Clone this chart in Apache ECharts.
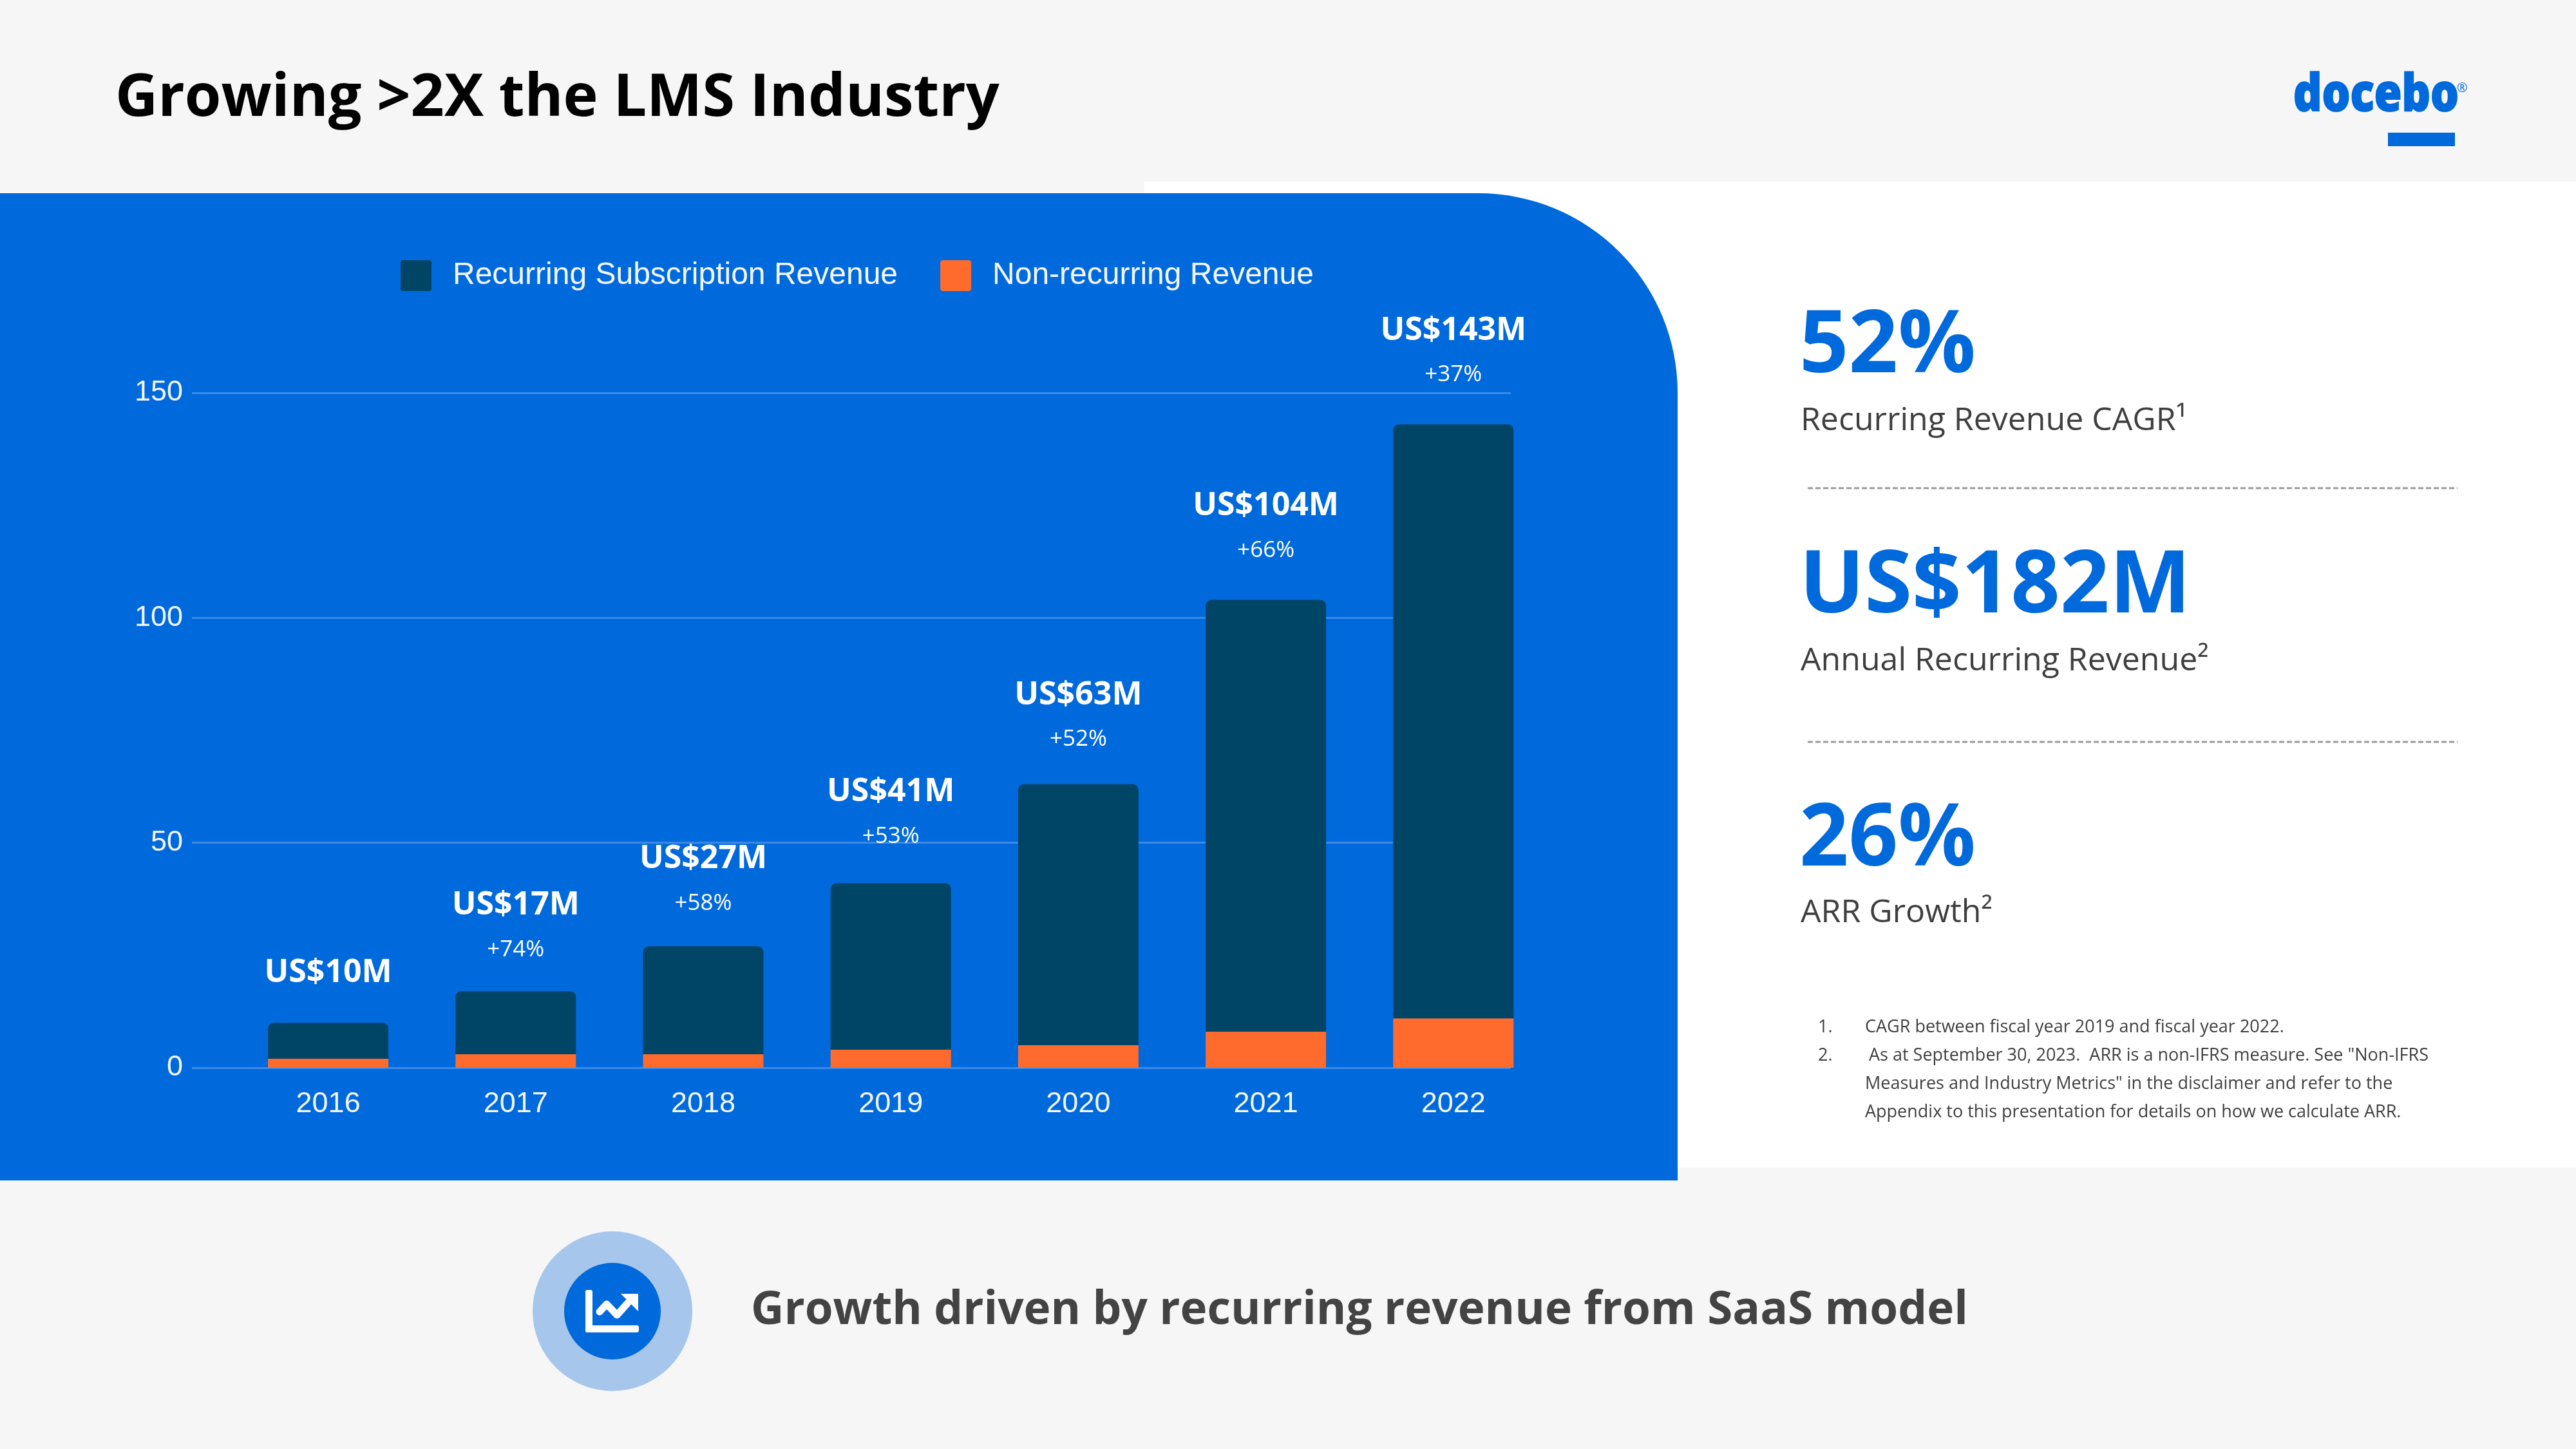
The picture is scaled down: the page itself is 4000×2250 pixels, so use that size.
<!DOCTYPE html>
<html>
<head>
<meta charset="utf-8">
<style>html,body{margin:0;padding:0;background:#f6f6f6}#c{width:4000px;height:2250px}</style>
<script src="https://cdn.jsdelivr.net/npm/echarts@6/dist/echarts.min.js"></script>
</head>
<body>
<div id="c"></div>
<script>
const years = ['2016','2017','2018','2019','2020','2021','2022'];
const recurring = [8,14,24,37,58,96,132];
const nonRecurring = [2,3,3,4,5,8,11];
const totalLabels = ['US$10M','US$17M','US$27M','US$41M','US$63M','US$104M','US$143M'];
const growthLabels = ['','+74%','+58%','+53%','+52%','+66%','+37%'];
const labelGaps = [43,30,32,38,35,42,42];
const metrics = ['52%','US$182M','26%'];
const metricNames = ['Recurring Revenue CAGR¹','Annual Recurring Revenue²','ARR Growth²'];

const BLUE='#0069DB', DARK='#004466', ORANGE='#FF6B2D', INK='#3F3F3F';
const SANS='"Open Sans"', ARIAL='"Liberation Sans"';

function txt(x,y,text,size,weight,fill,sx,extra){
  return {type:'text',x:x,y:y,scaleX:sx||1,z:20,
    style:Object.assign({x:0,y:0,text:text,fontFamily:SANS,fontSize:size,fontWeight:weight,fill:fill,textAlign:'left',textVerticalAlign:'middle',textBaseline:'middle'},extra||{})};
}
const graphics=[
  {type:'rect',z:-20,shape:{x:1777,y:282,width:2223,height:1531},style:{fill:'#fff'}},
  {type:'rect',z:-15,shape:{x:0,y:300,width:2605,height:1533,r:[0,310,0,0]},style:{fill:BLUE}},
  txt(3561,149,'docebo',79,800,BLUE,0.875,{stroke:BLUE,lineWidth:2}),
  txt(3815,137,'®',20,400,BLUE),
  {type:'rect',z:20,shape:{x:3708,y:206,width:104,height:21},style:{fill:BLUE}},
  txt(2794,540,metrics[0],134,700,BLUE),
  txt(2796,654,metricNames[0],50,400,INK),
  {type:'line',z:20,shape:{x1:2807,y1:758,x2:3816,y2:758},style:{stroke:'#9a9a9a',lineWidth:3,lineDash:[8,4]}},
  txt(2794,913,metrics[1],134,700,BLUE),
  txt(2796,1027,metricNames[1],50,400,INK),
  {type:'line',z:20,shape:{x1:2807,y1:1152,x2:3816,y2:1152},style:{stroke:'#9a9a9a',lineWidth:3,lineDash:[8,4]}},
  txt(2794,1306,metrics[2],134,700,BLUE),
  txt(2796,1418,metricNames[2],50,400,INK),
  txt(2823,1595,'1.',27,400,INK),
  txt(2896,1595,'CAGR between fiscal year 2019 and fiscal year 2022.',27,400,INK),
  txt(2823,1639,'2.',27,400,INK),
  txt(2902,1639,'As at September 30, 2023.  ARR is a non-IFRS measure. See "Non-IFRS',27,400,INK),
  txt(2896,1683,'Measures and Industry Metrics" in the disclaimer and refer to the',27,400,INK),
  txt(2896,1727,'Appendix to this presentation for details on how we calculate ARR.',27,400,INK),
  {type:'circle',z:10,shape:{cx:951,cy:2036,r:124},style:{fill:'#A6C6EC'}},
  {type:'circle',z:11,shape:{cx:951,cy:2036,r:75},style:{fill:BLUE}},
  {type:'rect',z:12,shape:{x:909,y:2003,width:11,height:66,r:3},style:{fill:'#fff'}},
  {type:'rect',z:12,shape:{x:909,y:2058,width:83,height:11,r:3},style:{fill:'#fff'}},
  {type:'polyline',z:12,shape:{points:[[931,2037],[942,2025],[958,2042],[975,2023]]},style:{stroke:'#fff',lineWidth:11,lineCap:'round',lineJoin:'round',fill:null}},
  {type:'polygon',z:12,shape:{points:[[964,2009],[991,2009],[991,2036]]},style:{fill:'#fff'}},
  txt(1166,2036,'Growth driven by recurring revenue from SaaS model',71,700,'#434343')
];

const chart=echarts.init(document.getElementById('c'),null,{renderer:'canvas',width:4000,height:2250});
chart.setOption({
  animation:false,
  backgroundColor:'#F6F6F6',
  title:{text:'Growing >2X the LMS Industry',left:179,top:92,padding:0,
    textStyle:{fontFamily:SANS,fontSize:91.5,fontWeight:700,color:'#000',lineHeight:124}},
  legend:{left:622,top:404,padding:0,itemWidth:48,itemHeight:48,itemGap:66,
    icon:'path://M4 0H44A4 4 0 0 1 48 4V44A4 4 0 0 1 44 48H4A4 4 0 0 1 0 44V4A4 4 0 0 1 4 0Z',
    data:['Recurring Subscription Revenue','Non-recurring Revenue'],
    textStyle:{fontFamily:ARIAL,fontSize:48,color:'#F2F6FD',padding:[3,0,0,28]}},
  grid:[
    {left:364,top:610,width:2038.4,height:1048},
    {left:298,top:610,width:2048,height:1048}
  ],
  xAxis:[
    {type:'category',gridIndex:0,data:years,axisTick:{show:false},axisLine:{show:false},
      axisLabel:{color:'#F2F6FD',fontFamily:ARIAL,fontSize:45,margin:34}},
    {type:'category',gridIndex:1,data:years,show:false}
  ],
  yAxis:[
    {type:'value',gridIndex:0,min:0,max:150,interval:50,show:false,splitLine:{show:false}},
    {type:'value',gridIndex:1,min:0,max:150,interval:50,axisTick:{show:false},axisLine:{show:false},
      axisLabel:{color:'#F2F6FD',fontFamily:ARIAL,fontSize:45,margin:14},
      splitLine:{lineStyle:{color:'#3C8AE6',width:3}}}
  ],
  series:[
    {name:'Non-recurring Revenue',type:'bar',stack:'r',xAxisIndex:0,yAxisIndex:0,barWidth:187,
      itemStyle:{color:ORANGE},data:nonRecurring},
    {name:'Recurring Subscription Revenue',type:'bar',stack:'r',xAxisIndex:0,yAxisIndex:0,barWidth:187,
      itemStyle:{color:DARK,borderRadius:[9,9,0,0]},
      label:{show:true,position:'top',
        formatter:p=>growthLabels[p.dataIndex]?`{a|${totalLabels[p.dataIndex]}}\n{b|${growthLabels[p.dataIndex]}}`:`{a|${totalLabels[p.dataIndex]}}`,
        rich:{a:{fontFamily:SANS,fontSize:50,fontWeight:700,color:'#fff',lineHeight:69,align:'center'},
              b:{fontFamily:SANS,fontSize:35,fontWeight:400,color:'#fff',lineHeight:69,align:'center'}}},
      data:recurring.map((v,i)=>({value:v,label:{distance:labelGaps[i]}}))}
  ],
  graphic:{elements:graphics}
});
</script>
</body>
</html>
